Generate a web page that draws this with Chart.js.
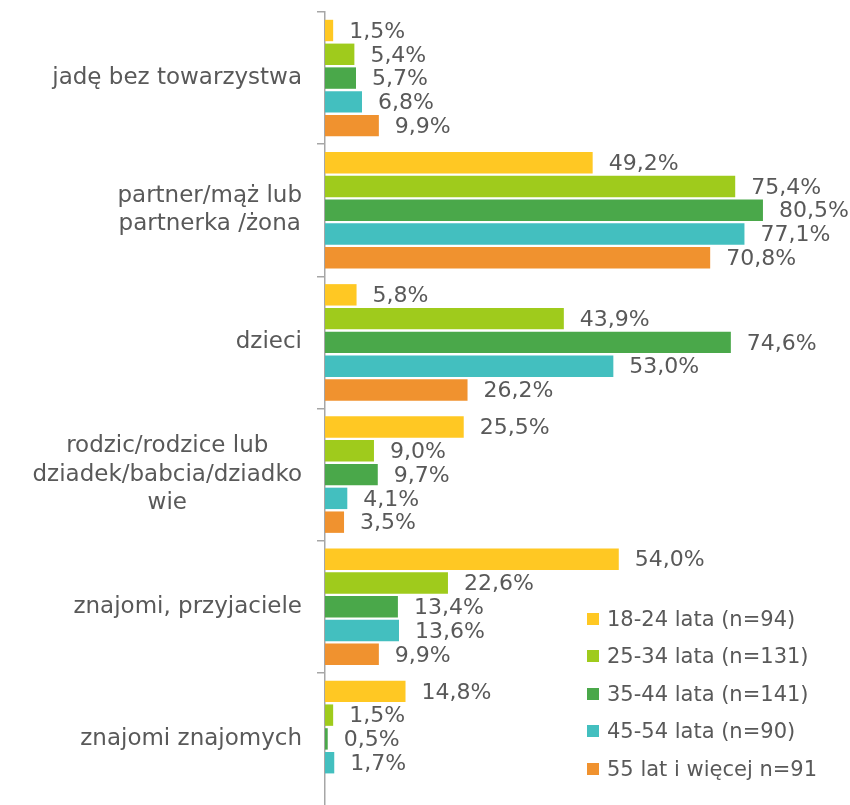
<!DOCTYPE html>
<html>
<head>
<meta charset="utf-8">
<script src="https://cdn.jsdelivr.net/npm/chart.js@4"></script>
<style>
  html, body { margin: 0; padding: 0; background: #fff; overflow: hidden; }
  #wrap { position: relative; width: 850px; height: 805px; }
  #legend { position: absolute; left: 587px; top: 600px; font-family: "DejaVu Sans", sans-serif; font-size: 21px; color: #595959; }
  #legend .row { height: 37.5px; display: flex; align-items: center; white-space: nowrap; }
  #legend .sw { width: 12px; height: 12px; margin-right: 8px; flex: none; }
</style>
</head>
<body>
<div id="wrap">
  <canvas id="c" width="850" height="805"></canvas>
  <div id="legend"></div>
</div>
<script>
const categories = [
  ["jadę bez towarzystwa"],
  ["partner/mąż lub", "partnerka /żona"],
  ["dzieci"],
  ["rodzic/rodzice lub", "dziadek/babcia/dziadko", "wie"],
  ["znajomi, przyjaciele"],
  ["znajomi znajomych"]
];
const seriesNames = ["18-24 lata (n=94)", "25-34 lata (n=131)", "35-44 lata (n=141)", "45-54 lata (n=90)", "55 lat i więcej n=91"];
const s1824 = [1.5, 49.2, 5.8, 25.5, 54.0, 14.8];
const s2534 = [5.4, 75.4, 43.9, 9.0, 22.6, 1.5];
const s3544 = [5.7, 80.5, 74.6, 9.7, 13.4, 0.5];
const s4554 = [6.8, 77.1, 53.0, 4.1, 13.6, 1.7];
const s55 = [9.9, 70.8, 26.2, 3.5, 9.9, null];
const seriesColors = ["#FFC823", "#9FCB1C", "#4AA84A", "#43BFBF", "#F0922F"];

const allSeries = [s1824, s2534, s3544, s4554, s55];
const TEXT = "#595959";
const FONT = '"DejaVu Sans", sans-serif';

const valueLabels = {
  id: 'valueLabels',
  afterDatasetsDraw(chart) {
    const ctx = chart.ctx;
    ctx.save();
    ctx.font = '22px ' + FONT;
    ctx.fillStyle = TEXT;
    ctx.textAlign = 'left';
    ctx.textBaseline = 'middle';
    chart.data.datasets.forEach((ds, di) => {
      const meta = chart.getDatasetMeta(di);
      meta.data.forEach((bar, i) => {
        const v = ds.data[i];
        if (v === null || v === undefined) return;
        ctx.fillText(v.toFixed(1).replace('.', ',') + '%', bar.x + 16, bar.y + 1.5);
      });
    });
    ctx.restore();
  }
};

const catLabels = {
  id: 'catLabels',
  afterDraw(chart) {
    const ctx = chart.ctx;
    const y = chart.scales.y;
    ctx.save();
    ctx.font = '23px ' + FONT;
    ctx.fillStyle = TEXT;
    ctx.textAlign = 'center';
    ctx.textBaseline = 'middle';
    const right = 302, lh = 28.5;
    categories.forEach((lines, i) => {
      const cy = y.getPixelForValue(i);
      const w = Math.max(...lines.map(l => ctx.measureText(l).width));
      const cx = right - w / 2;
      lines.forEach((l, k) => {
        ctx.fillText(l, cx, cy + (k - (lines.length - 1) / 2) * lh);
      });
    });
    ctx.restore();
  }
};

new Chart(document.getElementById('c'), {
  type: 'bar',
  data: {
    labels: categories.map(c => c.join(' ')),
    datasets: allSeries.map((d, i) => ({
      label: seriesNames[i],
      data: d,
      backgroundColor: seriesColors[i],
      borderWidth: 0,
      categoryPercentage: 0.9,
      barPercentage: 0.9
    }))
  },
  options: {
    indexAxis: 'y',
    responsive: false,
    animation: false,
    layout: { padding: { top: 12, right: 0, bottom: 0, left: 0 } },
    plugins: { legend: { display: false }, tooltip: { enabled: false } },
    scales: {
      x: { display: false, min: 0, max: 96.5 },
      y: {
        type: 'category',
        offset: true,
        afterFit(scale) { scale.width = 325; },
        ticks: { display: false },
        grid: {
          offset: true, drawOnChartArea: false, tickLength: 8, lineWidth: 1.5,
          color: (ctx) => (ctx.type !== 'tick' || ctx.index >= categories.length ? 'rgba(0,0,0,0)' : '#A6A6A6')
        },
        border: { color: '#A6A6A6', width: 1.5 }
      }
    }
  },
  plugins: [valueLabels, catLabels]
});

const lg = document.getElementById('legend');
seriesNames.forEach((n, i) => {
  const r = document.createElement('div');
  r.className = 'row';
  const sw = document.createElement('span');
  sw.className = 'sw';
  sw.style.background = seriesColors[i];
  const t = document.createElement('span');
  t.textContent = n;
  r.appendChild(sw); r.appendChild(t);
  lg.appendChild(r);
});
</script>
</body>
</html>
